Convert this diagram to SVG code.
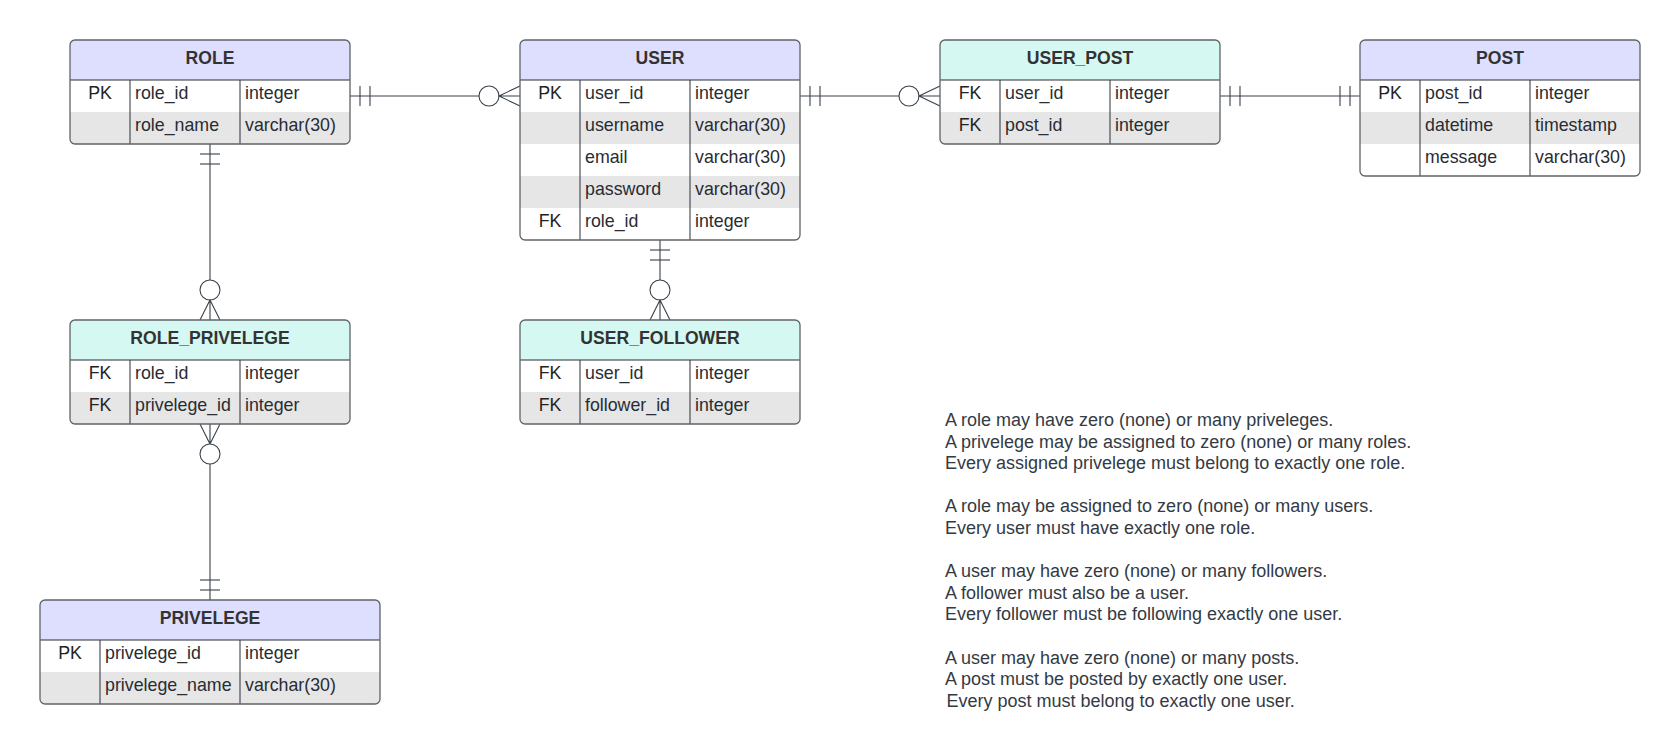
<svg xmlns="http://www.w3.org/2000/svg" width="1680" height="755" viewBox="0 0 1680 755">
<style>
text{font-family:"Liberation Sans",Arial,sans-serif;font-size:17.8px;fill:#282c33}
.ht{font-weight:bold;fill:#333;text-anchor:middle;font-size:17.6px}
.k{text-anchor:middle;fill:#222}
.hl{fill:#dedeff}
.hc{fill:#d6f8f2}
.r0{fill:#ffffff}
.r1{fill:#e6e6e6}
.in{stroke:#2b2f36;stroke-width:1;fill:none}
.box{fill:none;stroke:#5f6368;stroke-width:1.3}
.cn line,.cn path{stroke:#3a414a;stroke-width:1.1;fill:none}
.cn circle{stroke:#3a414a;stroke-width:1.1;fill:#fff}
.note text{fill:#333a44;font-size:18px}
</style>
<defs>
<clipPath id="c-role"><rect x="70" y="40" width="280" height="104" rx="5"/></clipPath>
<clipPath id="c-user"><rect x="520" y="40" width="280" height="200" rx="5"/></clipPath>
<clipPath id="c-up"><rect x="940" y="40" width="280" height="104" rx="5"/></clipPath>
<clipPath id="c-post"><rect x="1360" y="40" width="280" height="136" rx="5"/></clipPath>
<clipPath id="c-rp"><rect x="70" y="320" width="280" height="104" rx="5"/></clipPath>
<clipPath id="c-uf"><rect x="520" y="320" width="280" height="104" rx="5"/></clipPath>
<clipPath id="c-priv"><rect x="40" y="600" width="340" height="104" rx="5"/></clipPath>
</defs>
<rect width="1680" height="755" fill="#fff"/>

<g id="connectors" class="cn">
<!-- ROLE - USER -->
<line x1="350" y1="96" x2="479" y2="96"/>
<line x1="360" y1="86" x2="360" y2="106"/>
<line x1="370" y1="86" x2="370" y2="106"/>
<circle cx="489" cy="96" r="10"/>
<path d="M520 86 L499 96 L520 106 M499 96 L520 96"/>
<!-- USER - USER_POST -->
<line x1="800" y1="96" x2="899" y2="96"/>
<line x1="810" y1="86" x2="810" y2="106"/>
<line x1="820" y1="86" x2="820" y2="106"/>
<circle cx="909" cy="96" r="10"/>
<path d="M940 86 L919 96 L940 106 M919 96 L940 96"/>
<!-- USER_POST - POST -->
<line x1="1220" y1="96" x2="1360" y2="96"/>
<line x1="1230" y1="86" x2="1230" y2="106"/>
<line x1="1240" y1="86" x2="1240" y2="106"/>
<line x1="1340" y1="86" x2="1340" y2="106"/>
<line x1="1350" y1="86" x2="1350" y2="106"/>
<!-- ROLE - ROLE_PRIVELEGE -->
<line x1="210" y1="144" x2="210" y2="280"/>
<line x1="200" y1="154" x2="220" y2="154"/>
<line x1="200" y1="164" x2="220" y2="164"/>
<circle cx="210" cy="290" r="10"/>
<path d="M200 320 L210 300 L220 320 M210 300 L210 320"/>
<!-- USER - USER_FOLLOWER -->
<line x1="660" y1="240" x2="660" y2="280"/>
<line x1="650" y1="250" x2="670" y2="250"/>
<line x1="650" y1="260" x2="670" y2="260"/>
<circle cx="660" cy="290" r="10"/>
<path d="M650 320 L660 300 L670 320 M660 300 L660 320"/>
<!-- ROLE_PRIVELEGE - PRIVELEGE -->
<path d="M200 424 L210 444 L220 424 M210 424 L210 444"/>
<circle cx="210" cy="454" r="10"/>
<line x1="210" y1="464" x2="210" y2="600"/>
<line x1="200" y1="580" x2="220" y2="580"/>
<line x1="200" y1="590" x2="220" y2="590"/>
</g>

<g id="role">
<g clip-path="url(#c-role)">
<rect class="hl" x="70" y="40" width="280" height="40"/>
<rect class="r0" x="70" y="80" width="280" height="32"/>
<rect class="r1" x="70" y="112" width="280" height="32"/>
</g>
<line class="in" x1="70" y1="80" x2="350" y2="80"/>
<line class="in" x1="130" y1="80" x2="130" y2="144"/>
<line class="in" x1="240" y1="80" x2="240" y2="144"/>
<rect class="box" x="70" y="40" width="280" height="104" rx="5"/>
<text class="ht" x="210" y="64">ROLE</text>
<text class="k" x="100" y="99">PK</text><text x="135" y="99">role_id</text><text x="245" y="99">integer</text>
<text x="135" y="131">role_name</text><text x="245" y="131">varchar(30)</text>
</g>

<g id="user">
<g clip-path="url(#c-user)">
<rect class="hl" x="520" y="40" width="280" height="40"/>
<rect class="r0" x="520" y="80" width="280" height="32"/>
<rect class="r1" x="520" y="112" width="280" height="32"/>
<rect class="r0" x="520" y="144" width="280" height="32"/>
<rect class="r1" x="520" y="176" width="280" height="32"/>
<rect class="r0" x="520" y="208" width="280" height="32"/>
</g>
<line class="in" x1="520" y1="80" x2="800" y2="80"/>
<line class="in" x1="580" y1="80" x2="580" y2="240"/>
<line class="in" x1="690" y1="80" x2="690" y2="240"/>
<rect class="box" x="520" y="40" width="280" height="200" rx="5"/>
<text class="ht" x="660" y="64">USER</text>
<text class="k" x="550" y="99">PK</text><text x="585" y="99">user_id</text><text x="695" y="99">integer</text>
<text x="585" y="131">username</text><text x="695" y="131">varchar(30)</text>
<text x="585" y="163">email</text><text x="695" y="163">varchar(30)</text>
<text x="585" y="195">password</text><text x="695" y="195">varchar(30)</text>
<text class="k" x="550" y="227">FK</text><text x="585" y="227">role_id</text><text x="695" y="227">integer</text>
</g>

<g id="user_post">
<g clip-path="url(#c-up)">
<rect class="hc" x="940" y="40" width="280" height="40"/>
<rect class="r0" x="940" y="80" width="280" height="32"/>
<rect class="r1" x="940" y="112" width="280" height="32"/>
</g>
<line class="in" x1="940" y1="80" x2="1220" y2="80"/>
<line class="in" x1="1000" y1="80" x2="1000" y2="144"/>
<line class="in" x1="1110" y1="80" x2="1110" y2="144"/>
<rect class="box" x="940" y="40" width="280" height="104" rx="5"/>
<text class="ht" x="1080" y="64">USER_POST</text>
<text class="k" x="970" y="99">FK</text><text x="1005" y="99">user_id</text><text x="1115" y="99">integer</text>
<text class="k" x="970" y="131">FK</text><text x="1005" y="131">post_id</text><text x="1115" y="131">integer</text>
</g>

<g id="post">
<g clip-path="url(#c-post)">
<rect class="hl" x="1360" y="40" width="280" height="40"/>
<rect class="r0" x="1360" y="80" width="280" height="32"/>
<rect class="r1" x="1360" y="112" width="280" height="32"/>
<rect class="r0" x="1360" y="144" width="280" height="32"/>
</g>
<line class="in" x1="1360" y1="80" x2="1640" y2="80"/>
<line class="in" x1="1420" y1="80" x2="1420" y2="176"/>
<line class="in" x1="1530" y1="80" x2="1530" y2="176"/>
<rect class="box" x="1360" y="40" width="280" height="136" rx="5"/>
<text class="ht" x="1500" y="64">POST</text>
<text class="k" x="1390" y="99">PK</text><text x="1425" y="99">post_id</text><text x="1535" y="99">integer</text>
<text x="1425" y="131">datetime</text><text x="1535" y="131">timestamp</text>
<text x="1425" y="163">message</text><text x="1535" y="163">varchar(30)</text>
</g>

<g id="role_privelege">
<g clip-path="url(#c-rp)">
<rect class="hc" x="70" y="320" width="280" height="40"/>
<rect class="r0" x="70" y="360" width="280" height="32"/>
<rect class="r1" x="70" y="392" width="280" height="32"/>
</g>
<line class="in" x1="70" y1="360" x2="350" y2="360"/>
<line class="in" x1="130" y1="360" x2="130" y2="424"/>
<line class="in" x1="240" y1="360" x2="240" y2="424"/>
<rect class="box" x="70" y="320" width="280" height="104" rx="5"/>
<text class="ht" x="210" y="344">ROLE_PRIVELEGE</text>
<text class="k" x="100" y="379">FK</text><text x="135" y="379">role_id</text><text x="245" y="379">integer</text>
<text class="k" x="100" y="411">FK</text><text x="135" y="411">privelege_id</text><text x="245" y="411">integer</text>
</g>

<g id="user_follower">
<g clip-path="url(#c-uf)">
<rect class="hc" x="520" y="320" width="280" height="40"/>
<rect class="r0" x="520" y="360" width="280" height="32"/>
<rect class="r1" x="520" y="392" width="280" height="32"/>
</g>
<line class="in" x1="520" y1="360" x2="800" y2="360"/>
<line class="in" x1="580" y1="360" x2="580" y2="424"/>
<line class="in" x1="690" y1="360" x2="690" y2="424"/>
<rect class="box" x="520" y="320" width="280" height="104" rx="5"/>
<text class="ht" x="660" y="344">USER_FOLLOWER</text>
<text class="k" x="550" y="379">FK</text><text x="585" y="379">user_id</text><text x="695" y="379">integer</text>
<text class="k" x="550" y="411">FK</text><text x="585" y="411">follower_id</text><text x="695" y="411">integer</text>
</g>

<g id="privelege">
<g clip-path="url(#c-priv)">
<rect class="hl" x="40" y="600" width="340" height="40"/>
<rect class="r0" x="40" y="640" width="340" height="32"/>
<rect class="r1" x="40" y="672" width="340" height="32"/>
</g>
<line class="in" x1="40" y1="640" x2="380" y2="640"/>
<line class="in" x1="100" y1="640" x2="100" y2="704"/>
<line class="in" x1="240" y1="640" x2="240" y2="704"/>
<rect class="box" x="40" y="600" width="340" height="104" rx="5"/>
<text class="ht" x="210" y="624">PRIVELEGE</text>
<text class="k" x="70" y="659">PK</text><text x="105" y="659">privelege_id</text><text x="245" y="659">integer</text>
<text x="105" y="691">privelege_name</text><text x="245" y="691">varchar(30)</text>
</g>

<g id="notes" class="note">
<text x="945" y="426">A role may have zero (none) or many priveleges.</text>
<text x="945" y="447.6">A privelege may be assigned to zero (none) or many roles.</text>
<text x="945" y="469.2">Every assigned privelege must belong to exactly one role.</text>
<text x="945" y="512.4">A role may be assigned to zero (none) or many users.</text>
<text x="945" y="534">Every user must have exactly one role.</text>
<text x="945" y="577.2">A user may have zero (none) or many followers.</text>
<text x="945" y="598.8">A follower must also be a user.</text>
<text x="945" y="620.4">Every follower must be following exactly one user.</text>
<text x="945" y="663.6">A user may have zero (none) or many posts.</text>
<text x="945" y="685.2">A post must be posted by exactly one user.</text>
<text x="946.5" y="706.8">Every post must belong to exactly one user.</text>
</g>
</svg>
